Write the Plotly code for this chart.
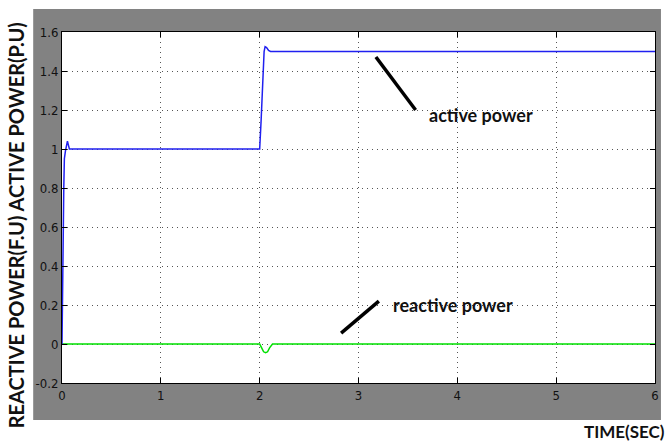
import plotly.graph_objects as go

# Active power (p.u.) vs time (s)
t_active = [0.0, 0.004, 0.008, 0.010, 0.014, 0.018, 0.024, 0.035, 0.045, 0.055, 0.065, 0.075, 0.09,
            2.0, 2.015, 2.03, 2.045, 2.055, 2.07, 2.09, 2.11, 6.0]
p_active = [0.0, 0.37, 0.40, 0.60, 0.62, 0.80, 0.95, 0.99, 1.03, 1.04, 1.02, 1.0, 1.0,
            1.0, 1.15, 1.35, 1.50, 1.525, 1.52, 1.505, 1.50, 1.50]

# Reactive power (p.u.) vs time (s)
t_reactive = [0.0, 2.0, 2.02, 2.04, 2.06, 2.08, 2.10, 2.12, 2.13, 6.0]
q_reactive = [0.0, 0.0, -0.02, -0.04, -0.045, -0.04, -0.02, -0.003, 0.0, 0.0]

x_ticks = [0, 1, 2, 3, 4, 5, 6]
y_ticks = [-0.2, 0, 0.2, 0.4, 0.6, 0.8, 1, 1.2, 1.4, 1.6]
y_tick_text = ["-0.2", "0", "0.2", "0.4", "0.6", "0.8", "1", "1.2", "1.4", "1.6"]

fig = go.Figure()
fig.add_trace(go.Scatter(x=t_reactive, y=q_reactive, mode="lines",
                         line=dict(color="#00e000", width=1.5), name="reactive power"))
fig.add_trace(go.Scatter(x=t_active, y=p_active, mode="lines",
                         line=dict(color="#2020f0", width=1.5), name="active power"))

W, H = 665, 448
L, R, T, B = 62, 6, 32, 65
pw, ph = W - L - R, H - T - B

def px(x):
    return (x - L) / pw

def py(y):
    return (H - B - y) / ph

# grey scope frame, then white plotting area on top of it
fig.add_shape(type="rect", xref="paper", yref="paper", layer="below",
              x0=px(33), x1=px(665), y0=py(420), y1=py(9),
              fillcolor="#828282", line=dict(width=0))
fig.add_shape(type="rect", xref="paper", yref="paper", layer="below",
              x0=0, x1=1, y0=0, y1=1,
              fillcolor="white", line=dict(width=0))

tick_font = dict(family="Liberation Sans Narrow, Arial Narrow, DejaVu Sans Condensed, sans-serif",
                 size=13, color="#111111")

grid = dict(showgrid=True, gridcolor="#555555", griddash="1px,4px", gridwidth=1,
            ticks="inside", ticklen=5, tickcolor="black", mirror="ticks",
            showline=True, linecolor="black", linewidth=1,
            zeroline=False, tickfont=tick_font)

fig.update_xaxes(range=[0, 6], tickvals=x_ticks, ticktext=[str(v) for v in x_ticks], **grid)
fig.update_yaxes(range=[-0.2, 1.6], tickvals=y_ticks, ticktext=y_tick_text, **grid)

label_font = dict(family="Lato, Open Sans, sans-serif", size=18, color="#111111")

# annotation pointers
fig.add_shape(type="line", x0=3.176, y0=1.472, x1=3.578, y1=1.20,
              line=dict(color="black", width=3.5))
fig.add_shape(type="line", x0=2.824, y0=0.056, x1=3.206, y1=0.22,
              line=dict(color="black", width=3.5))

fig.add_annotation(x=3.69, y=1.175, text="<b>active power</b>", showarrow=False,
                   xanchor="left", yanchor="middle", font=label_font)
fig.add_annotation(x=3.33, y=0.20, text="<b>reactive power</b>", showarrow=False,
                   xanchor="left", yanchor="middle", font=label_font)

fig.add_annotation(xref="paper", yref="paper", x=px(16), y=py(225),
                   text="<b>REACTIVE POWER(F.U) ACTIVE POWER(P.U)</b>", textangle=-90,
                   showarrow=False, xanchor="center", yanchor="middle",
                   font=dict(family="Lato, Open Sans, sans-serif", size=20, color="#111111"))
fig.add_annotation(xref="paper", yref="paper", x=px(671), y=py(431),
                   text="<b>TIME(SEC)</b>", showarrow=False,
                   xanchor="right", yanchor="middle",
                   font=dict(family="Lato, Open Sans, sans-serif", size=17, color="#111111"))

fig.update_layout(width=W, height=H, margin=dict(l=L, r=R, t=T, b=B),
                  paper_bgcolor="white", plot_bgcolor="white", showlegend=False)

fig.write_html("out.html")
